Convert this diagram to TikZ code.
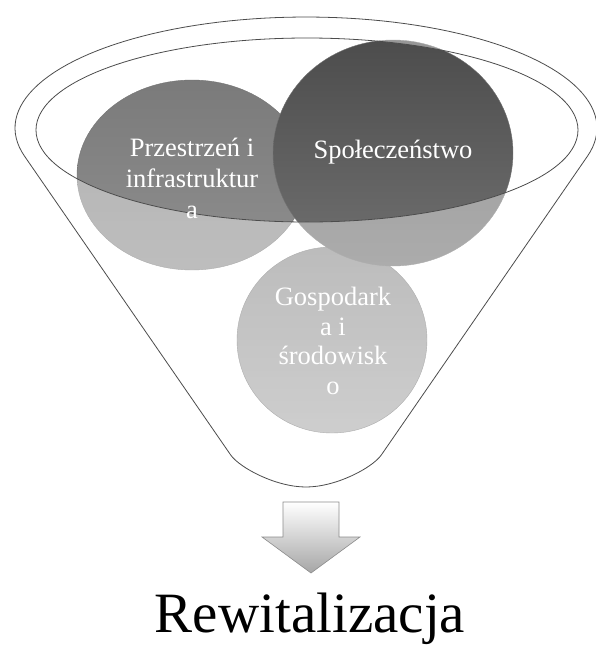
\documentclass[tikz,border=0pt]{standalone}
\usepackage{fontspec}
\setmainfont{Liberation Serif}
\usetikzlibrary{shapes.geometric}
\begin{document}
\begin{tikzpicture}[x=1pt,y=-1pt,
  rimline/.style={draw=black!70, line width=0.8pt},
  ball/.style={ellipse, inner sep=0pt, draw=black!55, line width=0.4pt},
  balltext/.style={text=white, align=center, inner sep=0pt,
    font=\fontsize{26.5}{31}\selectfont},
  glass/.style={fill=white, fill opacity=0.42, even odd rule},
]
\useasboundingbox (0,0) rectangle (596,646);
% balls
\node[ball, minimum width=190pt, minimum height=186pt, top color=black!45, bottom color=black!33] (bb) at (332,340) {};
\node[ball, minimum width=230pt, minimum height=190pt, top color=black!52, bottom color=black!44] (lb) at (192,175) {};
\node[ball, minimum width=240pt, minimum height=226pt, top color=black!70, bottom color=black!56] (rb) at (393,153) {};
% funnel glass overlay (front part lightens the balls)
\fill[glass]
  plot[domain=165.3:374.7, samples=90] ({306+291*cos(\x)},{128+111*sin(\x)})
  -- (381.3,455) .. controls (372,468) and (336,487) .. (306,487)
  .. controls (276,487) and (240,468) .. (230.7,455) -- cycle
  (307,130) ellipse [x radius=271, y radius=92];
% funnel outlines
\draw[rimline]
  plot[domain=165.3:374.7, samples=90] ({306+291*cos(\x)},{128+111*sin(\x)})
  -- (381.3,455) .. controls (372,468) and (336,487) .. (306,487)
  .. controls (276,487) and (240,468) .. (230.7,455) -- cycle;
\draw[rimline] (307,130) ellipse [x radius=271, y radius=92];
% ball labels
\node[balltext] (lt) at (192,178) {Przestrzeń i\\infrastruktur\\a};
\node[balltext] (rt) at (393,152) {Społeczeństwo};
\node[balltext, font=\fontsize{26.5}{29.5}\selectfont] (bt) at (333,341) {Gospodark\\a i\\środowisk\\o};
% arrow
\shade[top color=white, bottom color=black!35, draw=black!45, line width=0.6pt]
  (283,502) -- (339,502) -- (339,537) -- (360,537) -- (311,573)
  -- (262,537) -- (283,537) -- cycle;
% title
\node[anchor=base, inner sep=0pt, font=\fontsize{57}{60}\selectfont] (title) at (310,632) {Rewitalizacja};
\end{tikzpicture}
\end{document}
